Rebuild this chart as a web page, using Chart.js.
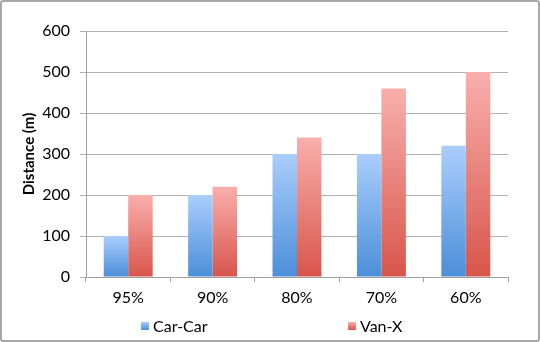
<!DOCTYPE html>
<html><head><meta charset="utf-8">
<script src="https://cdn.jsdelivr.net/npm/chart.js@4/dist/chart.umd.min.js"></script>
<style>
html,body{margin:0;padding:0;background:#fff;}
#wrap{position:relative;width:540px;height:342px;}
#frame{position:absolute;left:0;top:0;width:540px;height:342px;box-sizing:border-box;border:2px solid #a8a8a8;border-radius:3px;pointer-events:none;}
</style></head><body>
<div id="wrap"><canvas id="c" width="540" height="342"></canvas><div id="frame"></div></div>
<script>
const categories = ['95%', '90%', '80%', '70%', '60%'];
const carCar = [100, 200, 300, 300, 320];
const vanX = [200, 220, 340, 460, 500];
const yTicks = [0, 100, 200, 300, 400, 500, 600];
const seriesNames = ['Car-Car', 'Van-X'];

const FONT = "Lato, 'Open Sans', 'Liberation Sans', sans-serif";

function grad(top, bottom) {
  return function (ctx) {
    const chart = ctx.chart;
    const ca = chart.chartArea;
    if (!ca || ctx.type !== 'data') return bottom;
    const ys = chart.scales.y;
    const y0 = ys.getPixelForValue(ctx.raw);
    const y1 = ys.getPixelForValue(0);
    if (!isFinite(y0) || !isFinite(y1) || y0 === y1) return bottom;
    const g = chart.ctx.createLinearGradient(0, y0, 0, y1);
    g.addColorStop(0, top);
    g.addColorStop(1, bottom);
    return g;
  };
}

const legendPlugin = {
  id: 'customLegend',
  afterDraw(chart) {
    const c = chart.ctx;
    const items = [
      { text: seriesNames[0], top: '#a9cdfb', bottom: '#4f8fd9', x: 141 },
      { text: seriesNames[1], top: '#f8aeab', bottom: '#d9554b', x: 348 }
    ];
    c.save();
    c.font = '16px ' + FONT;
    c.textBaseline = 'middle';
    items.forEach(it => {
      const y = 326;
      const g = c.createLinearGradient(0, y - 4, 0, y + 4);
      g.addColorStop(0, it.top); g.addColorStop(1, it.bottom);
      c.fillStyle = g;
      c.fillRect(it.x, y - 4, 8, 8);
      c.fillStyle = '#000';
      c.fillText(it.text, it.x + 12, y + 1);
    });
    c.restore();
  }
};

new Chart(document.getElementById('c'), {
  type: 'bar',
  data: {
    labels: categories,
    datasets: [
      { label: seriesNames[0], data: carCar, backgroundColor: grad('#aacefc', '#4c8ed9'), borderWidth: 0 },
      { label: seriesNames[1], data: vanX, backgroundColor: grad('#f9afac', '#d8554b'), borderWidth: 0 }
    ]
  },
  options: {
    responsive: false,
    animation: false,
    devicePixelRatio: 1,
    layout: { padding: { top: 31, right: 32, left: 0, bottom: 0 } },
    datasets: { bar: { categoryPercentage: 0.58, barPercentage: 1.0 } },
    plugins: { legend: { display: false }, tooltip: { enabled: false } },
    scales: {
      x: {
        offset: true,
        grid: { display: true, offset: true, drawOnChartArea: false, drawTicks: true, tickLength: 5, color: '#a0a0a0' },
        border: { display: true, color: '#a0a0a0' },
        ticks: { color: '#000', font: { family: FONT, size: 16 }, padding: 6 },
        afterFit(s) { s.height = 65; }
      },
      y: {
        min: 0, max: 600,
        afterBuildTicks(s) { s.ticks = yTicks.map(v => ({ value: v })); },
        grid: { color: '#b0b0b0', tickLength: 6, lineWidth: 1 },
        border: { display: true, color: '#a0a0a0' },
        ticks: { color: '#000', font: { family: FONT, size: 16 }, padding: 10 },
        title: { display: true, text: 'Distance (m)', color: '#000', font: { family: FONT, size: 15, weight: 'bold' }, padding: { top: 20, bottom: 0 } },
        afterFit(s) { s.width = 86; }
      }
    }
  },
  plugins: [legendPlugin]
});
</script>
</body></html>
